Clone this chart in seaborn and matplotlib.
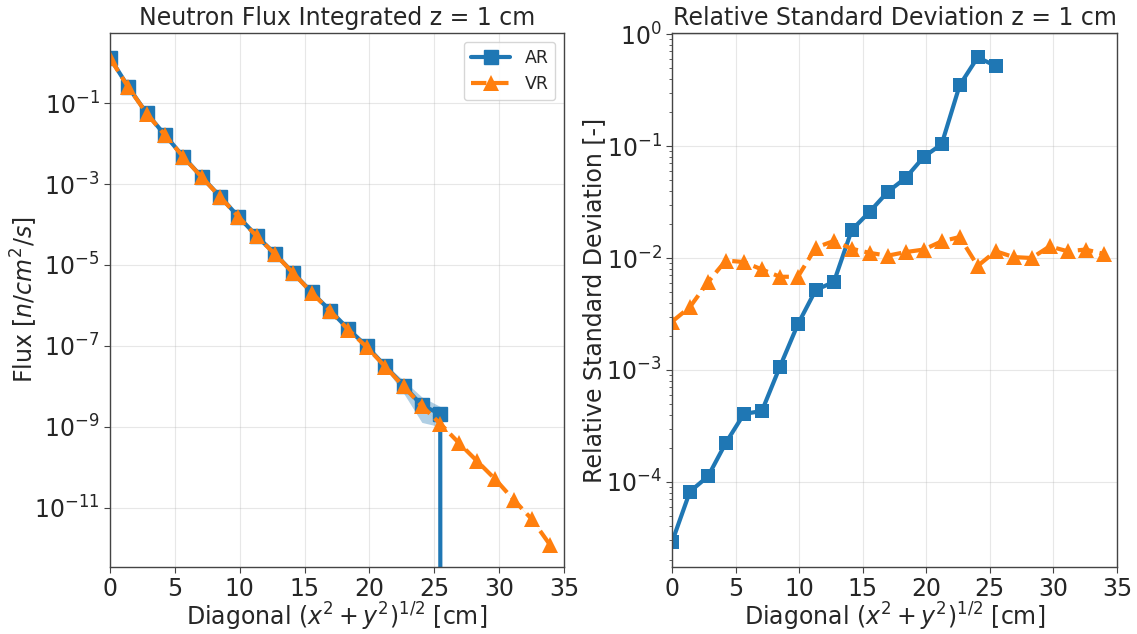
import numpy as np
import pandas as pd
import matplotlib
matplotlib.use("Agg")
import matplotlib.pyplot as plt
from matplotlib.ticker import MultipleLocator
import seaborn as sns

# ---- data ----
diag = [0.00, 1.41, 2.83, 4.24, 5.66, 7.07, 8.49, 9.90, 11.31, 12.73, 14.14, 15.56,
        16.97, 18.38, 19.80, 21.21, 22.63, 24.04, 25.46, 26.87, 28.28, 29.70, 31.11,
        32.53, 33.94]

flux_ar = [1.31, 2.5e-1, 5.6e-2, 1.62e-2, 4.7e-3, 1.5e-3, 4.9e-4, 1.56e-4, 5.2e-5,
           1.87e-5, 6.3e-6, 2.1e-6, 7.5e-7, 2.6e-7, 9.8e-8, 3.2e-8, 1.05e-8, 3.4e-9,
           2.1e-9, 0.0, 0.0, 0.0, 0.0, 0.0, 0.0]
rsd_ar = [2.9e-5, 8.2e-5, 1.12e-4, 2.24e-4, 4.05e-4, 4.3e-4, 1.07e-3, 2.56e-3, 5.2e-3,
          6.1e-3, 1.78e-2, 2.6e-2, 3.9e-2, 5.2e-2, 8.0e-2, 1.04e-1, 3.5e-1, 6.2e-1,
          5.2e-1, np.nan, np.nan, np.nan, np.nan, np.nan, np.nan]

flux_vr = [1.28, 2.45e-1, 5.5e-2, 1.6e-2, 4.6e-3, 1.48e-3, 4.8e-4, 1.55e-4, 5.1e-5,
           1.85e-5, 6.2e-6, 2.05e-6, 7.3e-7, 2.5e-7, 9.3e-8, 3.1e-8, 1.0e-8, 3.3e-9,
           1.2e-9, 4.1e-10, 1.45e-10, 5.1e-11, 1.6e-11, 5.2e-12, 1.2e-12]
rsd_vr = [2.7e-3, 3.65e-3, 6.1e-3, 9.5e-3, 9.2e-3, 7.9e-3, 6.8e-3, 6.8e-3, 1.24e-2,
          1.42e-2, 1.21e-2, 1.11e-2, 1.05e-2, 1.13e-2, 1.19e-2, 1.41e-2, 1.54e-2,
          8.5e-3, 1.15e-2, 1.02e-2, 1.0e-2, 1.27e-2, 1.15e-2, 1.19e-2, 1.09e-2]

labels = ["AR", "VR"]
colors = ["#1f77b4", "#ff7f0e"]

df = pd.DataFrame({"d": diag, "flux_ar": flux_ar, "rsd_ar": rsd_ar,
                   "flux_vr": flux_vr, "rsd_vr": rsd_vr})

sns.set_style("white")
plt.rcParams["font.family"] = ["DejaVu Sans"]
plt.rcParams["font.size"] = 17
plt.rcParams["mathtext.fontset"] = "dejavusans"

FS = 17

fig = plt.figure(figsize=(11.37, 6.34), dpi=100)
ax1 = fig.add_axes([110/1137, 1-567/634, 454/1137, 534/634])
ax2 = fig.add_axes([672/1137, 1-567/634, 445/1137, 534/634])

for ax in (ax1, ax2):
    ax.set_yscale("log")
    for s in ax.spines.values():
        s.set_color("#444444")
        s.set_linewidth(1.0)

# ---- left: flux ----
ar_lo = df["flux_ar"] * (1 - df["rsd_ar"])
ar_hi = df["flux_ar"] * (1 + df["rsd_ar"])
vr_lo = df["flux_vr"] * (1 - df["rsd_vr"])
vr_hi = df["flux_vr"] * (1 + df["rsd_vr"])
ax1.fill_between(df["d"], ar_lo, ar_hi, color=colors[0], alpha=0.35, linewidth=0)
ax1.fill_between(df["d"], vr_lo, vr_hi, color=colors[1], alpha=0.35, linewidth=0)
ax1.plot(df["d"], df["flux_ar"], color=colors[0], lw=3, marker="s", ms=10,
         label=labels[0])
sns.lineplot(x="d", y="flux_vr", data=df, ax=ax1, color=colors[1], lw=3,
             linestyle="--", marker="^", markersize=11, markeredgewidth=0,
             label=labels[1])

ax1.set_xlim(0, 35)
ax1.set_ylim(10**-12.46, 10**0.73)
ax1.set_title("Neutron Flux Integrated z = 1 cm", fontsize=FS)
ax1.set_xlabel(r"Diagonal $(x^2+y^2)^{1/2}$ [cm]", fontsize=FS)
ax1.set_ylabel(r"Flux [$n/cm^2/s$]", fontsize=FS)
ax1.legend(loc="upper right", fontsize=12.5, handlelength=2.3)

# ---- right: relative std ----
sns.lineplot(x="d", y="rsd_ar", data=df, ax=ax2, color=colors[0], lw=3,
             marker="s", markersize=10, markeredgewidth=0)
sns.lineplot(x="d", y="rsd_vr", data=df, ax=ax2, color=colors[1], lw=3,
             linestyle="--", marker="^", markersize=11, markeredgewidth=0)
ax2.set_xlim(0, 35)
ax2.set_ylim(10**-4.76, 10**0.01)
ax2.set_title("Relative Standard Deviation z = 1 cm", fontsize=FS)
ax2.set_xlabel(r"Diagonal $(x^2+y^2)^{1/2}$ [cm]", fontsize=FS)
ax2.set_ylabel("Relative Standard Deviation [-]", fontsize=FS)

for ax in (ax1, ax2):
    ax.xaxis.set_major_locator(MultipleLocator(5))
    ax.grid(True, which="major", color="#b0b0b0", alpha=0.3, lw=0.8)
    ax.tick_params(axis="both", which="major", labelsize=FS, length=4,
                   left=True, bottom=True, color="#444444")
    ax.tick_params(axis="y", which="minor", left=True, length=2, color="#444444")

# label placement to match the reference
ax1.xaxis.set_label_coords(0.5, (567 - 601) / 534)
ax2.xaxis.set_label_coords(0.5, (567 - 601) / 445 * 445 / 534)
ax1.yaxis.set_label_coords((40 - 110) / 454, 0.5)
ax2.yaxis.set_label_coords((606 - 672) / 445, 0.5)

fig.savefig("out.png", dpi=100)
